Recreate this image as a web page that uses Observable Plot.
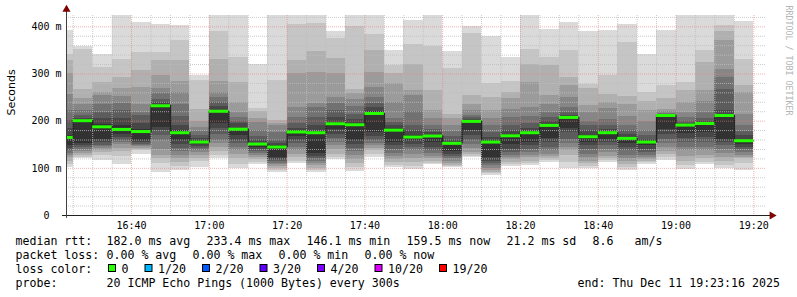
<!DOCTYPE html>
<html><head><meta charset="utf-8">
<script src="https://cdn.jsdelivr.net/npm/d3@7"></script>
<script src="https://cdn.jsdelivr.net/npm/@observablehq/plot@0.6"></script>
<style>
body{margin:0;background:#fff;}
#wrap{width:797px;height:297px;overflow:hidden;background:#fff}
svg{display:block}
</style></head><body><div id="wrap"></div>
<script>
// ---- data ----
const slots = ["16:20","16:25","16:30","16:35","16:40","16:45","16:50","16:55",
  "17:00","17:05","17:10","17:15","17:20","17:25","17:30","17:35","17:40","17:45","17:50","17:55",
  "18:00","18:05","18:10","18:15","18:20","18:25","18:30","18:35","18:40","18:45","18:50","18:55",
  "19:00","19:05","19:10","19:15"];
const medianRtt = [165.5,201,188,182.5,178,232.6,175.5,155.7,221,183,151.5,145.2,177,175.5,194.5,192.4,
  216.3,181,166.3,168.5,153,199.5,155.7,169,175.5,191,207.9,167,175.5,163.5,155.7,212,191.7,195,212,158.5];
// sorted ping boundaries (ms) per 5-minute slot, lowest to highest
const pings = [
 [102,108,115,122,128,132,137,142,148, 170,185,201,222,257,300,328,342,393],
 [120,124,128,132,136,140,145,148,152, 203,206,212,222,235,247,268,352,359],
 [116,127,133,137,142,146,148,155,162, 192,205,218,235,254,261,282,314,342],
 [108,125,135,142,150,155,160,165,172, 190,205,222,238,252,270,292,331,423],
 [129,137,140,143,146,148,150,155,160, 182,195,211,218,235,271,307,345,410],
 [92,110,120,128,140,158,170,180,187, 234,240,245,258,270,296,329,345,405],
 [95,103,112,120,128,135,142,150,160, 180,190,210,236,260,285,329,371,402],
 [102,115,120,128,133,138,142,146,150, 158,163,169,178,187,200,225,286,296],
 [120,128,135,145,152,160,172,185,194, 223,232,240,250,261,285,331,391,423],
 [99,109,120,130,138,145,152,160,170, 185,194,200,208,218,240,282,335,423],
 [108,112,118,123,128,132,136,140,145, 153,160,168,180,197,205,220,226,321],
 [91,96,100,104,108,111,114,118,122, 148,152,160,175,190,195,201,287,423],
 [110,115,122,130,138,144,152,160,168, 180,185,195,208,230,300,328,404,423],
 [92,96,100,105,110,115,120,125,131, 178,190,208,228,237,303,347,408,423],
 [118,124,130,140,148,155,163,172,182, 197,208,222,238,250,300,332,375,391],
 [94,102,110,118,128,135,142,150,160, 194,203,215,232,245,258,268,400,423],
 [123,130,138,143,148,152,160,168,176, 220,228,238,250,271,303,349,384,423],
 [102,106,112,118,125,132,140,148,155, 184,190,198,205,240,279,300,317,350],
 [97,104,112,120,130,138,145,150,158, 170,180,190,220,255,264,320,363,414],
 [108,111,115,120,126,132,138,145,155, 170,175,182,190,205,222,264,359,423],
 [102,104,106,110,115,120,125,130,135, 155,160,168,178,190,205,215,311,347],
 [123,126,130,134,142,150,158,170,180, 201,204,207,213,222,235,254,385,400],
 [85,88,92,96,100,105,110,115,123, 158,165,175,190,205,222,250,279,380],
 [104,108,113,118,123,128,133,140,150, 172,180,190,208,225,247,260,285,336],
 [106,110,115,122,128,133,140,148,155, 178,185,195,210,229,282,321,352,423],
 [113,116,120,125,130,138,145,155,163, 193,200,208,218,236,254,317,335,395],
 [99,112,127,138,145,152,162,175,185, 210,213,218,229,250,275,292,349,409],
 [99,104,110,115,122,130,140,148,155, 170,180,190,200,219,233,270,278,390],
 [113,116,120,125,133,140,148,155,162, 177,182,190,204,226,240,257,296,393],
 [95,102,109,115,120,128,137,145,152, 166,172,180,190,210,236,252,366,404],
 [109,112,115,118,122,127,133,140,148, 158,162,170,180,200,222,242,261,342],
 [116,122,130,135,145,152,162,172,183, 213,214,215,217,220,225,247,275,393],
 [97,105,115,125,137,145,155,163,173, 193,196,200,208,218,240,264,282,423],
 [108,112,120,128,137,145,155,165,176, 197,200,205,218,242,266,324,349,423],
 [99,106,115,123,132,140,148,155,162, 214,222,268,292,310,370,391,402,423],
 [95,110,120,124,128,134,140,145,150, 162,170,178,190,215,261,275,331,412]
];
const xTickLabels = ["16:40","17:00","17:20","17:40","18:00","18:20","18:40","19:00","19:20"];
const yTicks = [0,100,200,300,400];
const smokeGrays = [218,197,176,155,134,113,92,71,50];
const lossLabels = ["0","1/20","2/20","3/20","4/20","10/20","19/20"];
const lossColors = ["#26ff00","#00b8ff","#0059ff","#5e00ff","#7e00ff","#dd00ff","#ff0000"];
const statsLine1 = ["median rtt:","182.0 ms avg","233.4 ms max","146.1 ms min","159.5 ms now","21.2 ms sd","8.6","am/s"];
const statsLine2 = ["packet loss:","0.00 % avg","0.00 % max","0.00 % min","0.00 % now"];
const probeLine = ["probe:","20 ICMP Echo Pings (1000 Bytes) every 300s","end: Thu Dec 11 19:23:16 2025"];

// ---- build ----
const T = (hm, s = 0) => { const [h, m] = hm.split(":").map(Number); return new Date(Date.UTC(2025, 11, 11, h, m, s)); };
const STEP = 5 * 60 * 1000;
const xStart = T("16:23", 16), xEnd = T("19:23", 16);
const cols = slots.map((s, i) => ({start: T(s), end: new Date(+T(s) + STEP), m: medianRtt[i], p: pings[i]}));
const bands = [];
cols.forEach(c => smokeGrays.forEach((g, b) => bands.push({start: c.start, end: c.end, lo: c.p[b], hi: c.p[17 - b], fill: `rgb(${g},${g},${g})`})));
const medPts = cols.map(c => ({t: c.start, m: c.m})).concat([{t: cols[cols.length - 1].end, m: cols[cols.length - 1].m}]);

const gridTimes = [];
for (let t = +T("16:25"); t <= +xEnd; t += STEP) gridTimes.push(new Date(t));
const minorX = gridTimes.filter(d => d.getUTCMinutes() % 20 !== 0);
const majorX = xTickLabels.map(s => T(s));
const minorY = d3.range(20, 424, 20).filter(v => v % 100 !== 0);
const majorY = yTicks.filter(v => v > 0);

const gridMinor = "rgba(190,190,190,0.8)";
const gridMajor = "rgba(230,128,128,0.6)";

const chart = Plot.plot({
  width: 797, height: 232,
  marginLeft: 66, marginRight: 31, marginTop: 15, marginBottom: 17,
  x: {type: "utc", domain: [xStart, xEnd]},
  y: {domain: [0, 424]},
  color: {type: "identity"},
  style: {fontFamily: "DejaVu Sans Mono", fontSize: "10px", color: "#000", background: "#fff"},
  marks: [
    Plot.rect(bands, {x1: "start", x2: "end", y1: "lo", y2: "hi", fill: "fill", clip: true, shapeRendering: "crispEdges"}),
    Plot.ruleX(minorX, {stroke: gridMinor, strokeDasharray: "1,1"}),
    Plot.ruleY(minorY, {stroke: gridMinor, strokeDasharray: "1,1"}),
    Plot.ruleX(majorX, {stroke: gridMajor, strokeDasharray: "1,1"}),
    Plot.ruleY(majorY, {stroke: gridMajor, strokeDasharray: "1,1"}),
    Plot.line(medPts, {x: "t", y: "m", curve: "step-after", stroke: "#202020", strokeDasharray: "1,1", clip: true}),
    Plot.ruleY(cols, {y: "m", x1: "start", x2: "end", stroke: "#26ff00", strokeWidth: 3, clip: true}),
    Plot.ruleY([0], {x1: () => T("16:22", 14), x2: () => T("19:24", 20), stroke: "#202020"}),
    Plot.ruleX([xStart], {y1: -6, y2: 433, stroke: "#404040"}),
    Plot.dot([0], {x: () => T("19:24", 40), y: 0, symbol: "triangle", r: 3, fill: "#800000", rotate: 90}),
    Plot.dot([0], {x: () => xStart, y: 437, symbol: "triangle", r: 3, fill: "#800000"}),
    Plot.axisX({ticks: majorX, tickFormat: d3.utcFormat("%H:%M"), tickSize: 0, tickPadding: 6, label: null}),
    Plot.axisY({ticks: yTicks, tickFormat: d => d === 0 ? "0\u00a0\u00a0" : `${d} m`, tickSize: 0, tickPadding: 5, label: null}),
    Plot.text(["Seconds"], {text: d => d, frameAnchor: "left", dx: -55, rotate: -90, fontFamily: "DejaVu Sans", fontSize: 11, fill: "#000"}),
    Plot.text(["RRDTOOL / TOBI OETIKER"], {text: d => d, frameAnchor: "top-right", dx: 22, dy: -10, rotate: 90, textAnchor: "start", lineAnchor: "middle", fontSize: 8.3, fill: "#b4b4b4"})
  ]
});
const wrap = document.getElementById("wrap");
wrap.appendChild(chart);

// ---- legend below the plot ----
const leg = d3.create("svg").attr("width", 797).attr("height", 65)
  .style("font-family", "DejaVu Sans Mono").style("font-size", "11.6px");
const txt = (x, y, s) => leg.append("text").attr("x", x).attr("y", y).attr("fill", "#000").text(s);
const line1X = [15.5, 106.5, 206.5, 306.5, 406.5, 506.5, 592.5, 634.5];
statsLine1.forEach((s, i) => txt(line1X[i], 13, s));
const line2X = [15.5, 106.5, 192.5, 278.5, 364.5];
statsLine2.forEach((s, i) => txt(line2X[i], 27, s));
txt(15.5, 41, "loss color:");
let sx = 108;
lossLabels.forEach((lab, i) => {
  leg.append("rect").attr("x", sx + 0.5).attr("y", 32.5).attr("width", 7).attr("height", 7)
    .attr("fill", lossColors[i]).attr("stroke", "#000").attr("stroke-width", 1);
  txt(sx + 13.5, 41, lab);
  sx = sx + 13.5 + lab.length * 7 + 16;
});
const line4X = [15.5, 106.5, 577.5];
probeLine.forEach((s, i) => txt(line4X[i], 55, s));
wrap.appendChild(leg.node());
</script></body></html>
